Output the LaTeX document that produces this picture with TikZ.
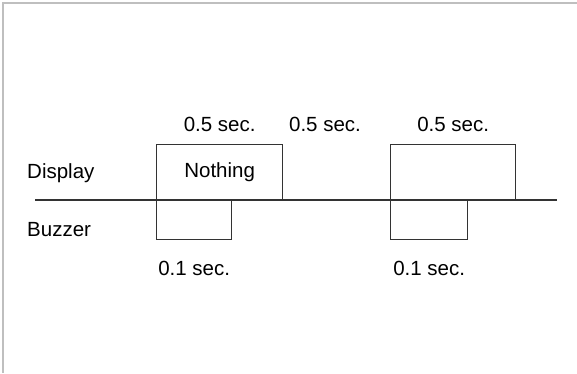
\documentclass[tikz,border=0pt]{standalone}
\usepackage{fontspec}
\setmainfont{Liberation Sans}
\usetikzlibrary{positioning}

\begin{document}
\begin{tikzpicture}[
        x=1pt, y=-1pt,
        pulse/.style={
            rectangle,
            draw=black!80, line width=1.3pt,
            inner sep=0pt,
            font=\fontsize{20.5}{24}\selectfont
        },
        lbl/.style={inner sep=0pt, font=\fontsize{20.5}{24}\selectfont},
        axis/.style={draw=black!80, line width=2.4pt},
        node distance=12pt
    ]

    \useasboundingbox (0,0) rectangle (577,373);
    \draw[black!25, line width=1.5pt] (3,373) -- (3,3) -- (577,3);

    % display pulses
    \node[pulse, minimum width=126pt, minimum height=55pt, anchor=south west]
        (disp1) at (156,200) {Nothing};
    \node[pulse, minimum width=125pt, minimum height=55pt, anchor=south west]
        (disp2) at (390,200) {};

    % buzzer pulses
    \node[pulse, minimum width=75pt, minimum height=39pt, anchor=north west]
        (buzz1) at (156,200) {};
    \node[pulse, minimum width=77pt, minimum height=39pt, anchor=north west]
        (buzz2) at (390,200) {};

    \coordinate (axisL) at (35,200);
    \coordinate (axisR) at (557,200);
    \draw[axis] (axisL) -- (axisR);

    \node[lbl, anchor=west] (display) at (27,173) {Display};
    \node[lbl, anchor=west] (buzzer) at (27,230) {Buzzer};

    \node[lbl, above=of disp1] (t1) {0.5 sec.};
    \node[lbl] (t2) at (325,0 |- t1) {0.5 sec.};
    \node[lbl, above=of disp2] (t3) {0.5 sec.};

    \node[lbl, below=21pt of buzz1] (b1) {0.1 sec.};
    \node[lbl, below=21pt of buzz2] (b2) {0.1 sec.};

\end{tikzpicture}
\end{document}
